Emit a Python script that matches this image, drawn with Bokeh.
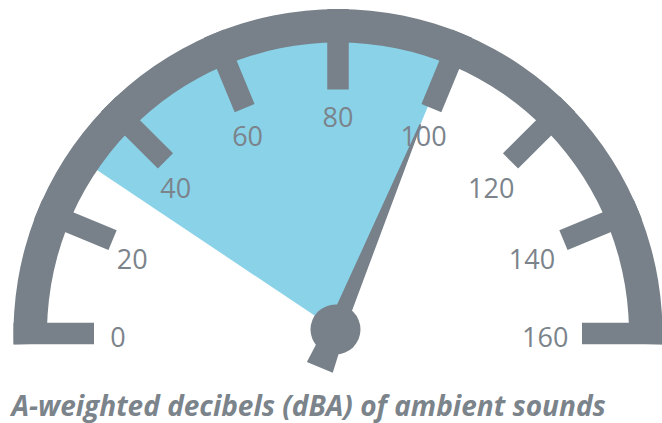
import numpy as np
from bokeh.plotting import figure
from bokeh.models import Range1d
from bokeh.embed import file_html
from bokeh.resources import INLINE
from bokeh.core.properties import value

# ---- data ----
gauge_min = 0
gauge_max = 160
tick_values = [0, 20, 40, 60, 80, 100, 120, 140, 160]
tick_labels = ["0", "20", "40", "60", "80", "100", "120", "140", "160"]
range_low = 30
range_high = 100
needle_value = 100
title_text = "A-weighted decibels (dBA) of ambient sounds"

# ---- styling / geometry (screen px, y measured upward from window bottom) ----
WIN_W, WIN_H = 662, 423
GREY = "#788189"
BLUE = "#8ad2e8"
TEXT = "#7b838b"

CX, CY = 337.5, WIN_H - 333      # gauge centre
R_OUT, R_IN, R_TICK = 324.5, 291.0, 244.0
TICK_W = 21.5
PX, PY = 335.0, WIN_H - 329      # needle pivot
R_LABEL = 220.0
LABEL_PX = 27


def ang(v):
    return np.pi * (1.0 - (v - gauge_min) / (gauge_max - gauge_min))


p = figure(width=WIN_W, height=WIN_H, x_range=Range1d(0, WIN_W), y_range=Range1d(0, WIN_H),
           output_backend="svg", toolbar_location=None, min_border=0,
           x_axis_location=None, y_axis_location=None)
p.grid.visible = False
p.outline_line_color = None
p.background_fill_color = "white"

# highlighted range wedge
p.wedge(x=PX, y=PY, radius=305, start_angle=ang(range_high), end_angle=ang(range_low),
        fill_color=BLUE, line_color=None)

# outer band
p.annular_wedge(x=CX, y=CY, inner_radius=R_IN, outer_radius=R_OUT,
                start_angle=-0.034, end_angle=np.pi + 0.034,
                fill_color=GREY, line_color=None)

# ticks
th = np.array([ang(v) for v in tick_values])
rm = (R_OUT + R_TICK) / 2.0
p.rect(x=CX + rm * np.cos(th), y=CY + rm * np.sin(th), width=R_OUT - R_TICK, height=TICK_W,
       angle=th, fill_color=GREY, line_color=None)

# labels (slightly drooped toward the base on both flanks; wide labels pulled inward on the right)
tl = th - np.deg2rad(2.5) * np.sin(2 * th)
half_w = np.array([0.286 * LABEL_PX * len(s) for s in tick_labels])
lx = CX + R_LABEL * np.cos(tl) - 0.55 * half_w * np.clip(np.cos(th), 0, None)
ly = CY + R_LABEL * np.sin(tl) - 3
p.text(x=lx, y=ly, text=tick_labels, text_align="center", text_baseline="middle",
       text_font=value("Open Sans"), text_font_size=f"{LABEL_PX}px", text_color=TEXT)

# needle
t = ang(needle_value)
u = np.array([np.cos(t), np.sin(t)])
n = np.array([-np.sin(t), np.cos(t)])
prof = [(-41, 14), (25, 8), (222, 1), (222, -1), (25, -8), (-41, -14)]
nx = [PX + a * u[0] + b * n[0] for a, b in prof]
ny = [PY + a * u[1] + b * n[1] for a, b in prof]
p.patch(nx, ny, fill_color=GREY, line_color=None)
p.circle(x=PX, y=PY, radius=25, fill_color=GREY, line_color=None)

# caption
p.text(x=[11], y=[WIN_H - 404], text=[title_text], text_align="left", text_baseline="middle",
       text_font=value("Open Sans"), text_font_size="28px", text_font_style="bold italic",
       text_color=TEXT)

open("out.html", "w").write(file_html(p, INLINE))
